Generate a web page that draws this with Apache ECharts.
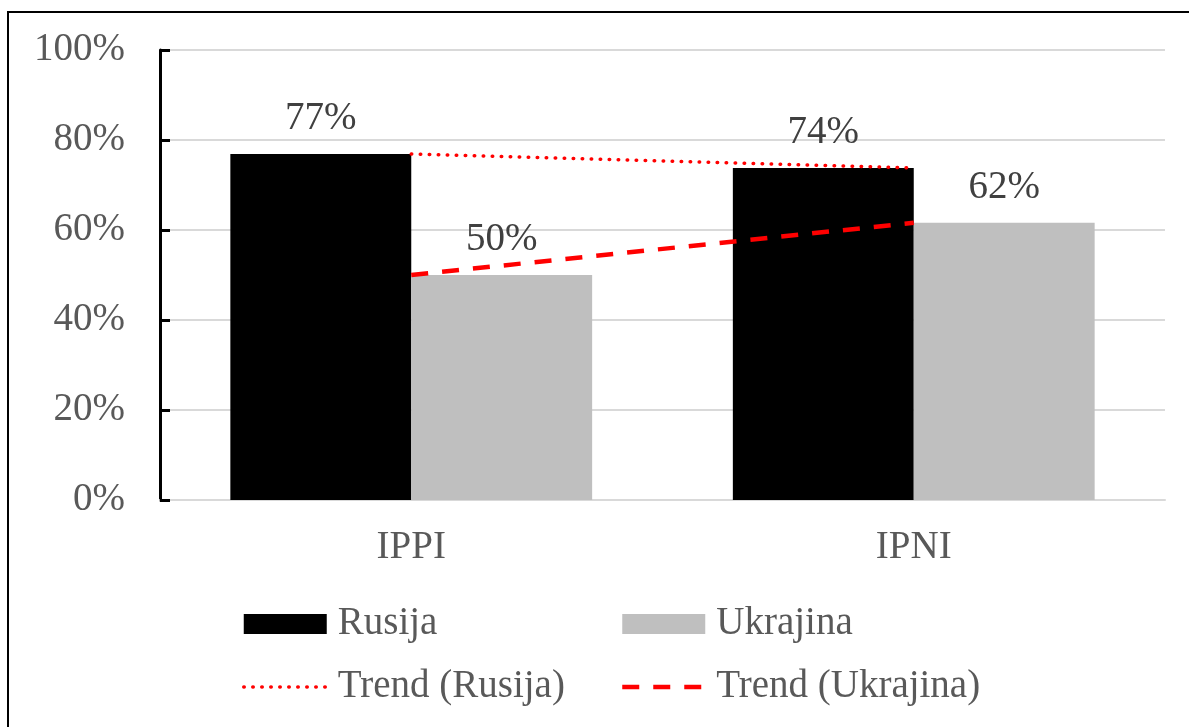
<!DOCTYPE html>
<html>
<head>
<meta charset="utf-8">
<script src="https://cdn.jsdelivr.net/npm/echarts@6/dist/echarts.min.js"></script>
<style>
  html, body { margin: 0; padding: 0; background: #fff; }
  #main { width: 1189px; height: 727px; }
</style>
</head>
<body>
<div id="main"></div>
<script>
var categories = ['IPPI', 'IPNI'];
var rusija = [76.9, 73.8];
var ukrajina = [50.0, 61.6];
var yTicks = [0, 20, 40, 60, 80, 100];

var serif = '"Liberation Serif", "Times New Roman", serif';

setTimeout(() => {
  var chartDom = document.getElementById('main');
  var myChart = echarts.init(chartDom);

  var dataLabel = {
    show: true,
    position: 'top',
    distance: 16,
    fontFamily: serif,
    fontSize: 39,
    color: '#404040',
    formatter: (p) => Math.round(p.value) + '%',
  };

  var dottedStyle = { color: '#ff0000', width: 3.5, type: [0.5, 8.5], cap: 'round' };
  var dashedStyle = { color: '#ff0000', width: 4.5, type: [17, 14] };

  var legendBase = {
    orient: 'vertical',
    top: 602,
    padding: 0,
    itemWidth: 83,
    itemHeight: 20,
    itemGap: 19,
    textStyle: { fontFamily: serif, fontSize: 39, color: '#595959', lineHeight: 44, padding: [0, 0, 0, 6] },
  };

  var option = {
    backgroundColor: '#fff',
    animation: false,
    graphic: [
      {
        type: 'rect',
        shape: { x: 8, y: 12, width: 1220, height: 760 },
        style: { fill: 'none', stroke: '#000', lineWidth: 2 },
        z: -1,
      },
    ],
    grid: { left: 160, right: 24, top: 50, bottom: 227 },
    legend: [
      Object.assign({}, legendBase, {
        left: 242,
        data: [
          { name: 'Rusija', icon: 'rect' },
          { name: 'Trend (Rusija)', itemStyle: { opacity: 0 }, lineStyle: dottedStyle },
        ],
      }),
      Object.assign({}, legendBase, {
        left: 620,
        data: [
          { name: 'Ukrajina', icon: 'rect' },
          { name: 'Trend (Ukrajina)', itemStyle: { opacity: 0 }, lineStyle: dashedStyle },
        ],
      }),
    ],
    xAxis: {
      type: 'category',
      data: categories,
      axisLine: { lineStyle: { color: '#d9d9d9', width: 2 } },
      axisTick: { show: false },
      axisLabel: { fontFamily: serif, fontSize: 39, color: '#595959', margin: 28 },
    },
    yAxis: {
      type: 'value',
      min: yTicks[0],
      max: yTicks[yTicks.length - 1],
      interval: 20,
      axisLine: { show: true, lineStyle: { color: '#000', width: 3 } },
      axisTick: { show: true, inside: true, length: 10, lineStyle: { color: '#000', width: 3 } },
      splitLine: { lineStyle: { color: '#d9d9d9', width: 2 } },
      axisLabel: { fontFamily: serif, fontSize: 39, color: '#595959', margin: 35, formatter: '{value}%' },
    },
    series: [
      {
        name: 'Rusija',
        type: 'bar',
        data: rusija,
        barGap: '0%',
        barCategoryGap: '28%',
        itemStyle: { color: '#000' },
        label: dataLabel,
      },
      {
        name: 'Ukrajina',
        type: 'bar',
        data: ukrajina,
        itemStyle: { color: '#bfbfbf' },
        label: dataLabel,
      },
      {
        name: 'Trend (Rusija)',
        type: 'line',
        data: rusija,
        symbol: 'none',
        z: 5,
        itemStyle: { color: '#ff0000' },
        lineStyle: dottedStyle,
      },
      {
        name: 'Trend (Ukrajina)',
        type: 'line',
        data: ukrajina,
        symbol: 'none',
        z: 5,
        itemStyle: { color: '#ff0000' },
        lineStyle: dashedStyle,
      },
    ],
  };

  option && myChart.setOption(option);

  window.onresize = function () {
    myChart.resize();
  };
}, 1);
</script>
</body>
</html>
